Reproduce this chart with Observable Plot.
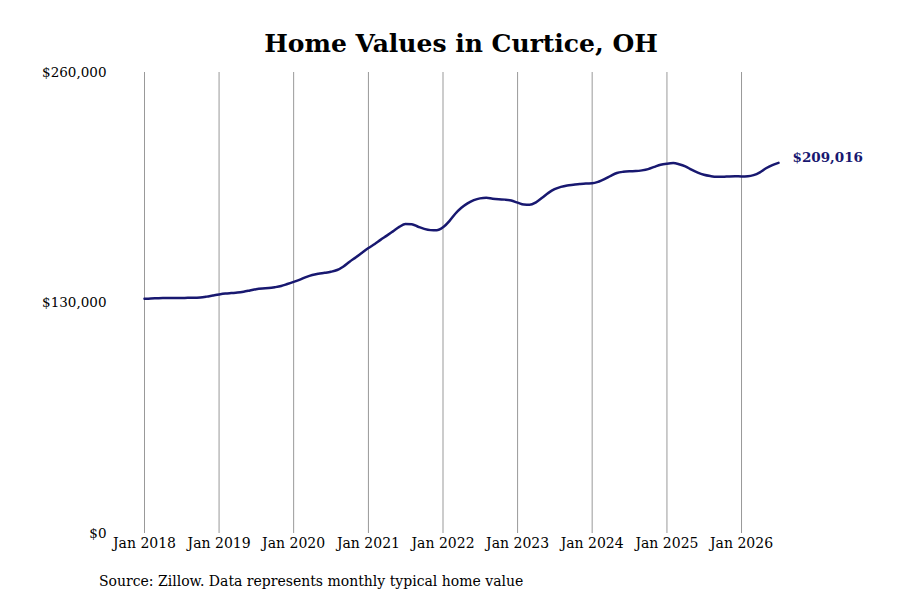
<!DOCTYPE html>
<html>
<head>
<meta charset="utf-8">
<script src="https://cdn.jsdelivr.net/npm/d3@7"></script>
<script src="https://cdn.jsdelivr.net/npm/@observablehq/plot@0.6"></script>
<style>
  body { margin: 0; background: #fff; }
  #wrap { position: relative; width: 900px; height: 600px; font-family: "DejaVu Serif", serif; color: #000; }
  #title { position: absolute; left: 144px; width: 634px; top: 30px; text-align: center; font-size: 25px; line-height: 28px; font-weight: bold; }
  #chart { position: absolute; left: 0; top: 60px; }
  #caption { position: absolute; left: 99px; top: 572px; font-size: 14px; line-height: 18px; }
</style>
</head>
<body>
<div id="wrap">
  <div id="title">Home Values in Curtice, OH</div>
  <div id="chart"></div>
  <div id="caption">Source: Zillow. Data represents monthly typical home value</div>
</div>
<script>
const startYear = 2018;
const startMonth = 0; // January
const values = [
  132400,132600,132700,132800,132800,132800,132800,132900,132900,133100,
  133600,134200,134800,135300,135600,135900,136400,137100,137800,138200,
  138400,138900,139600,140700,141900,143200,144600,145800,146500,147000,
  147600,148600,150600,153300,155800,158400,161000,163300,165600,168000,
  170400,172900,174600,174400,173000,171800,171100,171000,172700,176200,
  180200,183700,186200,188000,189000,189300,188800,188500,188300,187800,
  186600,185500,185400,186800,189300,192100,194200,195500,196300,196700,
  197100,197400,197500,198400,199800,201700,203300,204000,204300,204400,
  204800,205500,206800,208000,208600,208900,208300,207100,205200,203500,
  202300,201600,201200,201200,201400,201500,201400,201500,202100,203700,
  206000,207800,209016
];
const xTickYears = [2018,2019,2020,2021,2022,2023,2024,2025,2026];
const yTicks = [0, 130000, 260000];

const data = values.map((v, i) => ({ date: new Date(Date.UTC(startYear, startMonth + i, 1)), value: v }));
const last = data[data.length - 1];
const xTicks = xTickYears.map(y => new Date(Date.UTC(y, 0, 1)));
const money = d3.format("$,");

const plot = Plot.plot({
  width: 900,
  height: 500,
  marginTop: 12,
  marginBottom: 27,
  marginLeft: 144,
  marginRight: 122,
  style: { fontFamily: "DejaVu Serif, serif", fontSize: "14px", color: "#000", background: "#fff" },
  x: { type: "utc", domain: [data[0].date, last.date] },
  y: { domain: [0, 260000] },
  marks: [
    Plot.gridX(xTicks, { stroke: "#999", strokeOpacity: 1, strokeWidth: 1 }),
    Plot.axisX(xTicks, { tickSize: 0, tickPadding: 5, tickFormat: d3.utcFormat("Jan %Y"), label: null, fontSize: 14 }),
    Plot.axisY(yTicks, { tickSize: 0, tickPadding: 38, tickFormat: money, label: null, fontSize: 13.5 }),
    Plot.lineY(data, { x: "date", y: "value", stroke: "#181870", strokeWidth: 2.5, curve: "monotone-x" }),
    Plot.text([last], { x: "date", y: "value", text: d => money(d.value), dx: 14, dy: -5, textAnchor: "start", fontWeight: "bold", fill: "#181870", fontSize: 13.5 })
  ]
});
document.getElementById("chart").appendChild(plot);
</script>
</body>
</html>
